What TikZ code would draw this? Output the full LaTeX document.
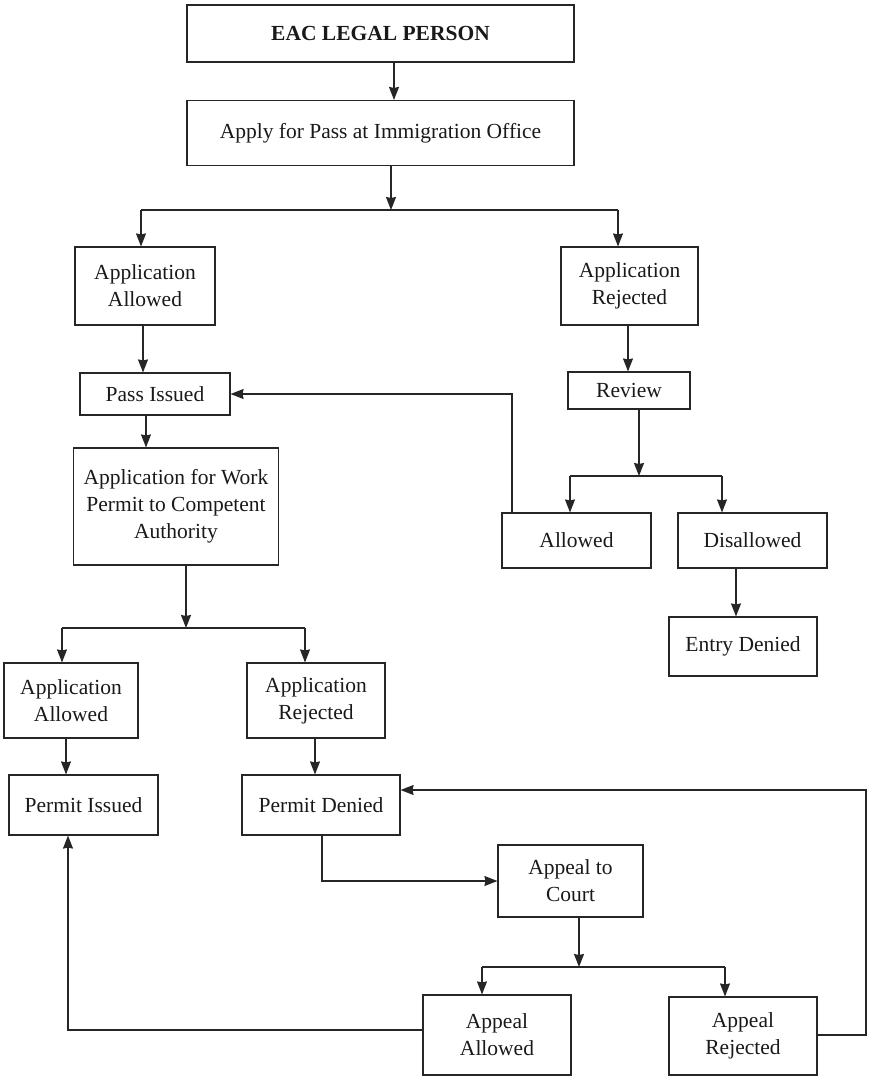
\documentclass[tikz,border=0pt]{standalone}
\usepackage{fontspec}
\setmainfont{Liberation Serif}
\usetikzlibrary{arrows.meta}
\begin{document}
\begin{tikzpicture}[x=1pt,y=-1pt,
  box/.style={draw=black!85,line width=1.1pt,rectangle,align=center,inner sep=0pt,
    font=\fontsize{21.5}{27}\selectfont,text=black!90},
  conn/.style={draw=black!85,line width=1.3pt},
  arr/.style={conn,-{Stealth[length=13pt,width=10pt,inset=1pt]}}]
\useasboundingbox (0,0) rectangle (871,1080);
% nodes
\node[box,minimum width=387,minimum height=57,font=\fontsize{21.5}{27}\selectfont\bfseries] (eac) at (380.5,33.5) {EAC LEGAL PERSON};
\node[box,minimum width=387,minimum height=65] (apply) at (380.5,133) {Apply for Pass at Immigration Office};
\node[box,minimum width=140,minimum height=78] (aa1) at (145,286) {Application\\Allowed};
\node[box,minimum width=137,minimum height=78] (ar1) at (629.5,286) {Application\\Rejected};
\node[box,minimum width=150,minimum height=42] (pass) at (155,394) {Pass Issued};
\node[box,minimum width=122,minimum height=37] (review) at (629,390.5) {Review};
\node[box,minimum width=149,minimum height=55] (allowed) at (576.5,540.5) {Allowed};
\node[box,minimum width=149,minimum height=55] (disallowed) at (752.5,540.5) {Disallowed};
\node[box,minimum width=148,minimum height=59] (entry) at (743,646.5) {Entry Denied};
\node[box,minimum width=205,minimum height=117] (work) at (176,506.5) {Application for Work\\Permit to Competent\\Authority};
\node[box,minimum width=134,minimum height=75] (aa2) at (71,700.5) {Application\\Allowed};
\node[box,minimum width=138,minimum height=75] (ar2) at (316,700.5) {Application\\Rejected};
\node[box,minimum width=149,minimum height=60] (permitI) at (83.5,805) {Permit Issued};
\node[box,minimum width=158,minimum height=60] (permitD) at (321,805) {Permit Denied};
\node[box,minimum width=145,minimum height=72] (court) at (570.5,881) {Appeal to\\Court};
\node[box,minimum width=148,minimum height=80] (appA) at (497,1035) {Appeal\\Allowed};
\node[box,minimum width=148,minimum height=78] (appR) at (743,1036) {Appeal\\Rejected};
% helper coordinates
\coordinate (x394) at (394,0);
\coordinate (s1) at (391,210);
\coordinate (s1l) at (141,210);
\coordinate (s1r) at (618,210);
\coordinate (x143) at (143,0);
\coordinate (x628) at (628,0);
\coordinate (s2) at (639,476);
\coordinate (s2l) at (570,476);
\coordinate (s2r) at (722,476);
\coordinate (fb1) at (512,394);
\coordinate (x146) at (146,0);
\coordinate (s3) at (186,628);
\coordinate (s3l) at (62,628);
\coordinate (s3r) at (305,628);
\coordinate (x736) at (736,0);
\coordinate (x66) at (66,0);
\coordinate (x315) at (315,0);
\coordinate (x322) at (322,0);
\coordinate (s4) at (579,967);
\coordinate (s4l) at (482,967);
\coordinate (s4r) at (725,967);
\coordinate (fbA) at (68,1030);
\coordinate (fbR) at (866,1035);
\coordinate (fbR2) at (866,790);
% connectors
\draw[arr] (eac.south -| x394) -- (apply.north -| x394);
\draw[arr] (apply.south -| s1) -- (s1);
\draw[conn] (s1l) -- (s1r);
\draw[arr] (s1l) -- (s1l |- aa1.north);
\draw[arr] (s1r) -- (s1r |- ar1.north);
\draw[arr] (aa1.south -| x143) -- (pass.north -| x143);
\draw[arr] (ar1.south -| x628) -- (review.north -| x628);
\draw[arr] (review.south -| s2) -- (s2);
\draw[conn] (s2l) -- (s2r);
\draw[arr] (s2l) -- (s2l |- allowed.north);
\draw[arr] (s2r) -- (s2r |- disallowed.north);
\draw[arr] (allowed.north -| fb1) -- (fb1) -- (pass.east);
\draw[arr] (pass.south -| x146) -- (work.north -| x146);
\draw[arr] (work.south -| s3) -- (s3);
\draw[conn] (s3l) -- (s3r);
\draw[arr] (s3l) -- (s3l |- aa2.north);
\draw[arr] (s3r) -- (s3r |- ar2.north);
\draw[arr] (disallowed.south -| x736) -- (entry.north -| x736);
\draw[arr] (aa2.south -| x66) -- (permitI.north -| x66);
\draw[arr] (ar2.south -| x315) -- (permitD.north -| x315);
\draw[arr] (permitD.south -| x322) |- (court.west);
\draw[arr] (court.south -| s4) -- (s4);
\draw[conn] (s4l) -- (s4r);
\draw[arr] (s4l) -- (s4l |- appA.north);
\draw[arr] (s4r) -- (s4r |- appR.north);
\draw[arr] (appA.west |- fbA) -- (fbA) -- (permitI.south -| fbA);
\draw[arr] (appR.east |- fbR) -- (fbR) -- (fbR2) -- (permitD.east |- fbR2);
\end{tikzpicture}
\end{document}
